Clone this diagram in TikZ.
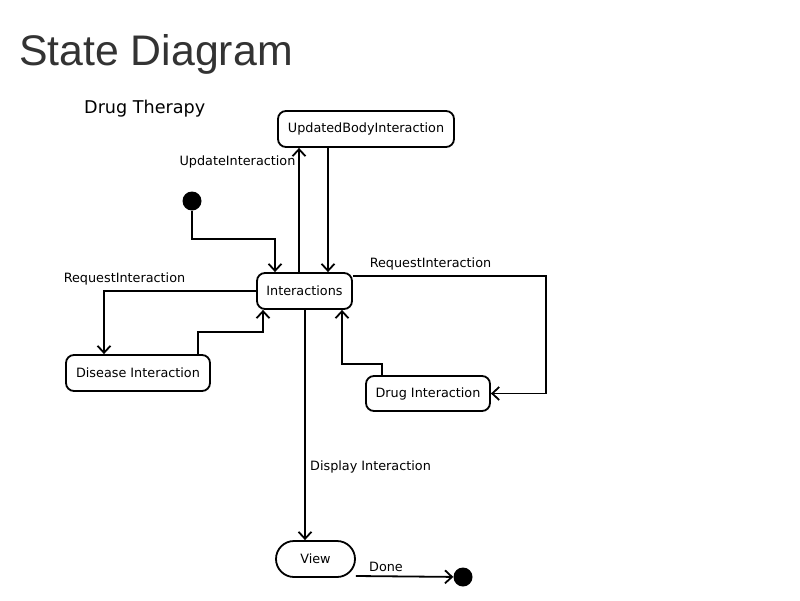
\documentclass[tikz,border=0pt]{standalone}
\usepackage{fontspec}
\setmainfont{DejaVu Sans}
\newfontfamily\titlefont{Liberation Sans}
\usetikzlibrary{arrows.meta}
\definecolor{titlegray}{HTML}{333333}
\tikzset{
  statebox/.style={draw, line width=1.8pt, rounded corners=8pt, inner sep=0pt,
    font=\fontsize{12.8}{15}\selectfont},
  arr/.style={line width=1.8pt, -{Straight Barb[length=7pt,width=13pt,line width=1.8pt]}},
  lbl/.style={font=\fontsize{12.8}{15}\selectfont, inner sep=0pt},
  dot/.style={circle, fill=black, minimum size=19pt, inner sep=0pt}
}
\begin{document}
\begin{tikzpicture}[x=1pt,y=-1pt]
\useasboundingbox[fill=white] (0,0) rectangle (800,600);
\node[anchor=west, inner sep=0pt, text=titlegray, font=\titlefont\fontsize{42.8}{48}\selectfont] (title) at (19,54) {State Diagram};
\node[anchor=west, inner sep=0pt, font=\fontsize{17.6}{20}\selectfont] (sub) at (84,109) {Drug Therapy};

\node[statebox, minimum width=176pt, minimum height=36pt] (ubi) at (366,129) {UpdatedBodyInteraction};
\node[statebox, minimum width=95pt, minimum height=36pt] (int) at (304.5,291) {Interactions};
\node[statebox, minimum width=144pt, minimum height=36pt] (dis) at (138,373) {Disease Interaction};
\node[statebox, minimum width=124pt, minimum height=35pt] (drug) at (428,393.5) {Drug Interaction};
\node[statebox, rounded corners=18pt, minimum width=79pt, minimum height=36pt] (view) at (315.5,559) {View};
\node[dot] (init) at (192,201) {};
\node[dot] (final) at (463,577) {};

% connectors
\draw[arr] (init) |- (275,239) -- ([xshift=-29.5pt]int.north);
\draw[arr] ([xshift=-5.5pt]int.north) -- ([xshift=-67pt]ubi.south);
\draw[arr] ([xshift=-38pt]ubi.south) -- ([xshift=23.5pt]int.north);
\draw[arr] ([yshift=15pt]int.east) -- (546,276) |- (drug.east);
\draw[arr] ([xshift=-46pt]drug.north) |- (342,364) -- ([xshift=37.5pt]int.south);
\draw[arr] (int.west) -| ([xshift=-34pt]dis.north);
\draw[arr] ([xshift=60pt]dis.north) |- (263,332) -- ([xshift=-41.5pt]int.south);
\draw[arr] ([xshift=0.5pt]int.south) -- ([xshift=-10.5pt]view.north);
\draw[arr] ([yshift=-17pt]view.east) -- (final);

% labels
\node[lbl] (l1) at (237.5,161.5) {UpdateInteraction};
\node[lbl] (l2) at (430.5,263.5) {RequestInteraction};
\node[lbl] (l3) at (124.5,278.5) {RequestInteraction};
\node[lbl, anchor=west] (l4) at (310,466.5) {Display Interaction};
\node[lbl] (l5) at (386,566.5) {Done};
\end{tikzpicture}
\end{document}
